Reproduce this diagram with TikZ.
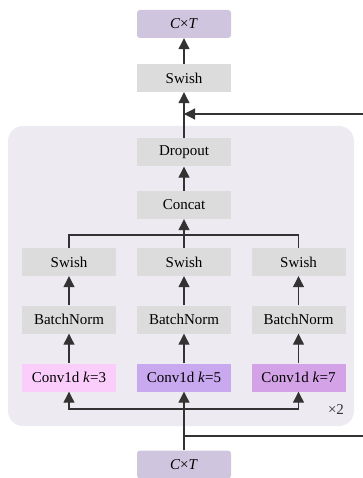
\documentclass[tikz,border=0pt]{standalone}
\usepackage{fontspec}
\setmainfont{Liberation Serif}
\usetikzlibrary{arrows.meta}

\definecolor{panelbg}{HTML}{EDEAF1}
\definecolor{opgray}{HTML}{DCDCDC}
\definecolor{tensorbg}{HTML}{CFC5DE}
\definecolor{convA}{HTML}{FBCDFB}
\definecolor{convB}{HTML}{C8A8EE}
\definecolor{convC}{HTML}{D4A2E6}
\definecolor{wire}{HTML}{333333}

\tikzset{
  op/.style={fill=opgray, minimum width=94pt, minimum height=28pt, inner sep=0pt,
    font=\fontsize{15}{17}\selectfont},
  tensor/.style={op, fill=tensorbg, rounded corners=3pt},
  flow/.style={draw=wire, line width=1.2pt, -{Triangle[length=11pt,width=11pt]}},
  wireline/.style={draw=wire, line width=1.2pt}
}

\begin{document}
\begin{tikzpicture}[x=1pt, y=-1pt]
    \useasboundingbox (0,0) rectangle (363,478);

    % repeated block
    \fill[panelbg, rounded corners=15pt] (8,126) rectangle (354,426);
    \node[font=\fontsize{15}{17}\selectfont, text=wire] (times) at (336,410) {×2};

    \node[tensor] (out) at (184,24) {\textit{C}×\textit{T}};
    \node[op] (swishtop) at (184,78) {Swish};
    \node[op] (dropout) at (184,152.5) {Dropout};
    \node[op] (concat) at (184,205) {Concat};
    \node[tensor] (in) at (184,464.5) {\textit{C}×\textit{T}};

    % three conv branches
    \foreach \i/\x/\k/\c in {1/69/3/convA, 2/184/5/convB, 3/298.5/7/convC} {
      \node[op] (swish\i) at (\x,262) {Swish};
      \node[op] (bn\i) at (\x,319.5) {BatchNorm};
      \node[op, fill=\c] (conv\i) at (\x,377.5) {Conv1d \textit{k}=\k};
      \draw[flow] (conv\i) -- (bn\i);
      \draw[flow] (bn\i) -- (swish\i);
    }

    \coordinate (split) at (184,409);
    \coordinate (join) at (184,235);
    \coordinate (skip) at (184,436);
    \coordinate (merge) at (184,114);

    \draw[wireline] (swish1.north) |- (join) -| (swish3.north);
    \draw[flow] (swish2) -- (concat);
    \draw[flow] (concat) -- (dropout);
    \draw[flow] (dropout) -- (swishtop);
    \draw[flow] (swishtop) -- (out);

    \draw[flow] (in) -- (conv2);
    \draw[flow] (split) -| (conv1.south);
    \draw[flow] (split) -| (conv3.south);

    % residual path
    \draw[flow] (skip) -- (367,436) -- (367,114) -- (merge);
\end{tikzpicture}
\end{document}
